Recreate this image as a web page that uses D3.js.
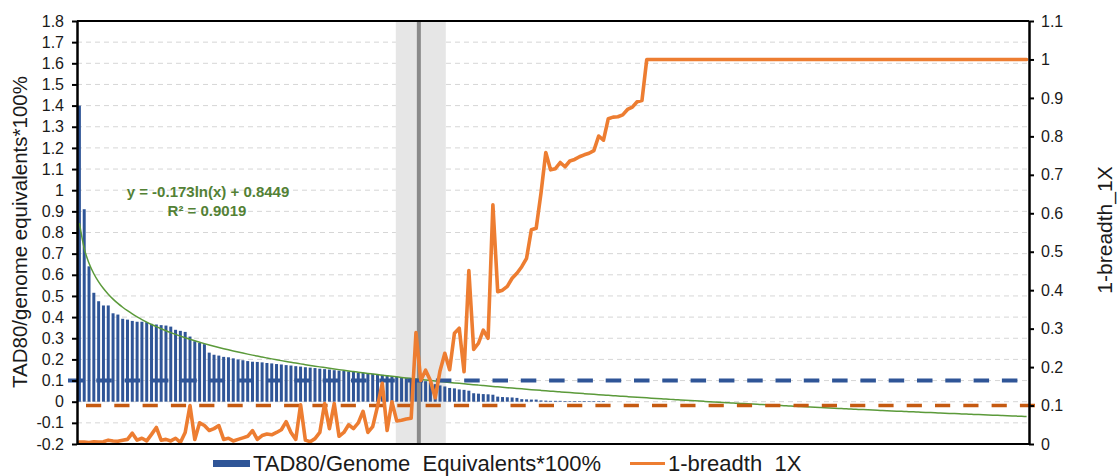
<!DOCTYPE html>
<html>
<head>
<meta charset="utf-8">
<script src="https://cdn.jsdelivr.net/npm/d3@7"></script>
<style>
  html, body { margin: 0; padding: 0; background: #fff; }
  svg { display: block; font-family: "Liberation Sans", Arial, Helvetica, sans-serif; }
  .legend-label { white-space: pre; }
</style>
</head>
<body>
<svg id="chart" width="1118" height="476"></svg>
<script>
// Samples ranked by TAD80 / genome equivalents (1-based rank)
const samples = d3.range(1, 199);

// TAD80/Genome Equivalents*100% (left axis)
const tadRatio = [
  1.40, 0.91, 0.64, 0.515, 0.475, 0.455, 0.455, 0.418, 0.412, 0.392,
  0.388, 0.382, 0.378, 0.378, 0.376, 0.368, 0.365, 0.362, 0.36, 0.355,
  0.34, 0.335, 0.33, 0.308, 0.286, 0.278, 0.272, 0.232, 0.222, 0.218,
  0.212, 0.21, 0.205, 0.2, 0.196, 0.192, 0.189, 0.188, 0.186, 0.183,
  0.181, 0.178, 0.176, 0.173, 0.171, 0.168, 0.166, 0.163, 0.161, 0.159,
  0.156, 0.154, 0.152, 0.149, 0.147, 0.145, 0.143, 0.141, 0.138, 0.136,
  0.134, 0.132, 0.13, 0.127, 0.124, 0.121, 0.118, 0.115, 0.112, 0.109,
  0.106, 0.102, 0.097, 0.09, 0.083, 0.077, 0.072, 0.065, 0.063, 0.058,
  0.056, 0.052, 0.04, 0.038, 0.036, 0.035, 0.033, 0.024, 0.022, 0.021,
  0.02, 0.018, 0.012, 0.011, 0.01, 0.01, 0.006, 0.005, 0.004, 0.004,
  0.004, 0.003, 0.003, 0.003, 0.003, 0.003, 0.003, 0.002, 0.002, 0.002,
  0, 0, 0, 0, 0, 0, 0, 0, 0, 0,
  0, 0, 0, 0, 0, 0, 0, 0, 0, 0,
  0, 0, 0, 0, 0, 0, 0, 0, 0, 0,
  0, 0, 0, 0, 0, 0, 0, 0, 0, 0,
  0, 0, 0, 0, 0, 0, 0, 0, 0, 0,
  0, 0, 0, 0, 0, 0, 0, 0, 0, 0,
  0, 0, 0, 0, 0, 0, 0, 0, 0, 0,
  0, 0, 0, 0, 0, 0, 0, 0, 0, 0,
  0, 0, 0, 0, 0, 0, 0, 0
];

// 1-breadth_1X (right axis)
const breadth = [
  0.005, 0.005, 0.004, 0.006, 0.005, 0.006, 0.01, 0.008, 0.007, 0.01,
  0.012, 0.028, 0.01, 0.015, 0.008, 0.025, 0.043, 0.01, 0.012, 0.008,
  0.015, 0.004, 0.03, 0.1, 0.012, 0.055, 0.048, 0.035, 0.04, 0.048,
  0.012, 0.015, 0.008, 0.012, 0.016, 0.02, 0.035, 0.012, 0.022, 0.026,
  0.024, 0.03, 0.037, 0.058, 0.03, 0.012, 0.102, 0.01, 0.006, 0.014,
  0.03, 0.105, 0.04, 0.105, 0.02, 0.03, 0.05, 0.04, 0.055, 0.085,
  0.03, 0.045, 0.098, 0.158, 0.035, 0.11, 0.06, 0.062, 0.065, 0.067,
  0.29, 0.165, 0.192, 0.165, 0.12, 0.19, 0.236, 0.193, 0.288, 0.301,
  0.188, 0.451, 0.246, 0.262, 0.296, 0.275, 0.622, 0.396, 0.40, 0.41,
  0.431, 0.444, 0.461, 0.483, 0.557, 0.561, 0.652, 0.758, 0.713, 0.716,
  0.732, 0.721, 0.736, 0.74, 0.747, 0.752, 0.756, 0.763, 0.801, 0.79,
  0.846, 0.85, 0.851, 0.856, 0.87, 0.876, 0.89, 0.893, 1, 1,
  1, 1, 1, 1, 1, 1, 1, 1, 1, 1,
  1, 1, 1, 1, 1, 1, 1, 1, 1, 1,
  1, 1, 1, 1, 1, 1, 1, 1, 1, 1,
  1, 1, 1, 1, 1, 1, 1, 1, 1, 1,
  1, 1, 1, 1, 1, 1, 1, 1, 1, 1,
  1, 1, 1, 1, 1, 1, 1, 1, 1, 1,
  1, 1, 1, 1, 1, 1, 1, 1, 1, 1,
  1, 1, 1, 1, 1, 1, 1, 1
];

const leftTicks = [-0.2, -0.1, 0, 0.1, 0.2, 0.3, 0.4, 0.5, 0.6, 0.7, 0.8, 0.9, 1, 1.1, 1.2, 1.3, 1.4, 1.5, 1.6, 1.7, 1.8];
const rightTicks = [0, 0.1, 0.2, 0.3, 0.4, 0.5, 0.6, 0.7, 0.8, 0.9, 1, 1.1];

// Logarithmic trendline fitted to the bars
const trendSlope = -0.173;
const trendIntercept = 0.8449;
const trendR2 = 0.9019;

// Reference thresholds (left axis for TAD, right axis for breadth)
const tadThreshold = 0.1;
const breadthThreshold = 0.1;

// Cut-off marker and its surrounding window, in sample-rank units
const cutoffRank = 71.1;
const cutoffWindow = [66.3, 76.7];

const seriesNames = ["TAD80/Genome  Equivalents*100%", "1-breadth  1X"];

// ---------------------------------------------------------------
const svg = d3.select("#chart");
const L = 77, R = 1029, T = 21, B = 444;

const x = d3.scaleBand().domain(samples).range([L, R]).paddingInner(0.38).paddingOuter(0.19);
const rank = d3.scaleLinear().domain([0, samples.length]).range([L, R]);
const yL = d3.scaleLinear().domain([-0.2, 1.8]).range([B, T]);
const yR = d3.scaleLinear().domain([0, 1.1]).range([B, T]);
const cx = s => x(s) + x.bandwidth() / 2;
const fmt = d => String(+d.toFixed(1));

const blue = "#2f5597", orange = "#ed7d31", darkOrange = "#c55a11", green = "#5b9a3a";

// horizontal gridlines
svg.append("g").selectAll("line")
  .data(leftTicks.filter(t => t > -0.2 && t < 1.8))
  .join("line")
  .attr("x1", L).attr("x2", R)
  .attr("y1", d => yL(d)).attr("y2", d => yL(d))
  .attr("stroke", "#d6d6d6").attr("stroke-width", 1).attr("stroke-dasharray", "5,4");

// shaded window around the cut-off
svg.append("rect")
  .attr("x", rank(cutoffWindow[0])).attr("y", T)
  .attr("width", rank(cutoffWindow[1]) - rank(cutoffWindow[0]))
  .attr("height", B - T)
  .attr("fill", "#e6e6e6");

// bars
svg.append("g").selectAll("rect")
  .data(samples.map((s, i) => ({ s, v: tadRatio[i] })).filter(d => d.v > 0))
  .join("rect")
  .attr("x", d => x(d.s)).attr("width", x.bandwidth())
  .attr("y", d => yL(d.v)).attr("height", d => Math.max(0.6, yL(0) - yL(d.v)))
  .attr("fill", blue);

// cut-off line
svg.append("line")
  .attr("x1", rank(cutoffRank)).attr("x2", rank(cutoffRank))
  .attr("y1", T).attr("y2", B + 1)
  .attr("stroke", "#8a8a8a").attr("stroke-width", 4);

// trendline
svg.append("path")
  .datum(samples)
  .attr("d", d3.line().x(s => cx(s)).y(s => yL(trendSlope * Math.log(s) + trendIntercept)).curve(d3.curveMonotoneX))
  .attr("fill", "none").attr("stroke", green).attr("stroke-width", 1.5);

// threshold lines
svg.append("line")
  .attr("x1", L - 9).attr("x2", R - 11)
  .attr("y1", yL(tadThreshold)).attr("y2", yL(tadThreshold))
  .attr("stroke", blue).attr("stroke-width", 4).attr("stroke-dasharray", "15.5,12.8");
svg.append("line")
  .attr("x1", L + 9).attr("x2", R + 6)
  .attr("y1", yR(breadthThreshold)).attr("y2", yR(breadthThreshold))
  .attr("stroke", darkOrange).attr("stroke-width", 3.5).attr("stroke-dasharray", "15.2,13.1");

// breadth line
svg.append("path")
  .datum(samples.map((s, i) => [s, breadth[i]]))
  .attr("d", d3.line().x(d => cx(d[0])).y(d => yR(d[1])))
  .attr("fill", "none").attr("stroke", orange).attr("stroke-width", 3.6)
  .attr("stroke-linejoin", "round").attr("stroke-linecap", "round");

// frame
svg.append("line").attr("x1", L).attr("x2", R).attr("y1", T).attr("y2", T).attr("stroke", "#000").attr("stroke-width", 2);
svg.append("line").attr("x1", L).attr("x2", R).attr("y1", B).attr("y2", B).attr("stroke", "#000").attr("stroke-width", 2);

// axes
const axL = svg.append("g").attr("transform", `translate(${L},0)`)
  .call(d3.axisLeft(yL).tickValues(leftTicks).tickFormat(fmt).tickSize(5).tickSizeOuter(0).tickPadding(8));
const axR = svg.append("g").attr("transform", `translate(${R},0)`)
  .call(d3.axisRight(yR).tickValues(rightTicks).tickFormat(fmt).tickSize(5).tickSizeOuter(0).tickPadding(7));
[axL, axR].forEach(g => {
  g.select(".domain").attr("stroke", "#000").attr("stroke-width", 2.5);
  g.selectAll(".tick line").attr("stroke", "#000").attr("stroke-width", 2);
  g.selectAll(".tick text").attr("font-size", 16).attr("fill", "#1a1a1a")
    .attr("font-family", "'Liberation Sans', Arial, sans-serif");
});

// axis titles
svg.append("text")
  .attr("transform", `translate(27,232) rotate(-90)`)
  .attr("text-anchor", "middle").attr("font-size", 20.5).attr("fill", "#1a1a1a")
  .text("TAD80/genome equivalents*100%");
svg.append("text")
  .attr("transform", `translate(1112,230) rotate(-90)`)
  .attr("text-anchor", "middle").attr("font-size", 21).attr("fill", "#1a1a1a")
  .text("1-breadth_1X");

// trendline equation
svg.append("text")
  .attr("x", 208).attr("y", 197).attr("text-anchor", "middle")
  .attr("font-size", 15).attr("font-weight", "bold").attr("fill", "#538135")
  .text(`y = ${trendSlope}ln(x) + ${trendIntercept}`);
svg.append("text")
  .attr("x", 207).attr("y", 216).attr("text-anchor", "middle")
  .attr("font-size", 15).attr("font-weight", "bold").attr("fill", "#538135")
  .text(`R² = ${trendR2}`);

// legend
const lg = svg.append("g");
lg.append("rect").attr("x", 213).attr("y", 460).attr("width", 37).attr("height", 7).attr("fill", blue);
lg.append("text").attr("class", "legend-label").attr("x", 253).attr("y", 471)
  .attr("font-size", 22).attr("fill", "#1a1a1a").text(seriesNames[0]);
lg.append("line").attr("x1", 630).attr("x2", 665).attr("y1", 463.5).attr("y2", 463.5)
  .attr("stroke", orange).attr("stroke-width", 3.2);
lg.append("text").attr("class", "legend-label").attr("x", 668).attr("y", 471)
  .attr("font-size", 22).attr("fill", "#1a1a1a").text(seriesNames[1]);
</script>
</body>
</html>
